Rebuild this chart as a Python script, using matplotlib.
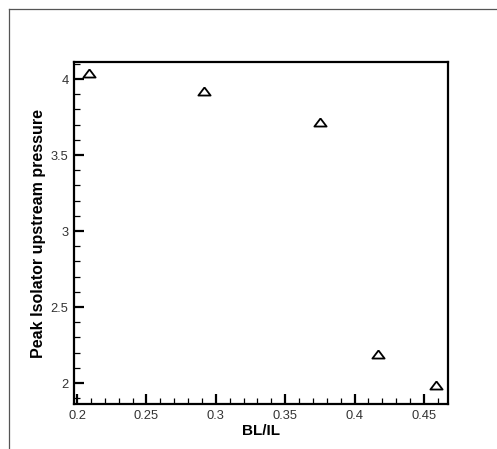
import numpy as np
import matplotlib.pyplot as plt
from matplotlib.lines import Line2D
from matplotlib.ticker import MultipleLocator

# Data
bl_il = [0.2083, 0.2917, 0.375, 0.4167, 0.4583]
peak_pressure = [4.04, 3.92, 3.72, 2.19, 1.99]

plt.rcParams['font.family'] = ['Liberation Sans', 'DejaVu Sans']

fig = plt.figure(figsize=(4.97, 4.49), dpi=100)
ax = fig.add_axes([0.1489, 0.1002, 0.7525, 0.7617])

# flattened triangle, wider than tall
tri = [(0, 0.66), (-1, -0.66), (1, -0.66), (0, 0.66)]
ax.plot(bl_il, peak_pressure, linestyle='none', marker=tri, markersize=8.8,
        markerfacecolor='white', markeredgecolor='black', markeredgewidth=1.3)

ax.set_xlim(0.1978, 0.4673)
ax.set_ylim(1.862, 4.112)
ax.xaxis.set_major_locator(MultipleLocator(0.05))
ax.xaxis.set_minor_locator(MultipleLocator(0.01))
ax.yaxis.set_major_locator(MultipleLocator(0.5))
ax.yaxis.set_minor_locator(MultipleLocator(0.1))
ax.xaxis.set_major_formatter(plt.FuncFormatter(lambda v, p: ('%g' % round(v, 3))))
ax.yaxis.set_major_formatter(plt.FuncFormatter(lambda v, p: ('%g' % round(v, 3))))

ax.tick_params(which='major', direction='in', length=7, width=1.6,
               labelsize=9.3, labelcolor='#333333', pad=4)
ax.tick_params(which='minor', direction='in', length=4, width=0.9)
for s in ax.spines.values():
    s.set_linewidth(1.6)

ax.set_xlabel('BL/IL', fontsize=11, fontweight='bold', labelpad=2)
ax.set_ylabel('Peak Isolator upstream pressure', fontsize=11.5,
              fontweight='bold', labelpad=3)

# outer frame lines
fig.add_artist(Line2D([9 / 497, 496 / 497], [1 - 9 / 449, 1 - 9 / 449],
                      transform=fig.transFigure, color='#555555', lw=0.9))
fig.add_artist(Line2D([9 / 497, 9 / 497], [1 - 9 / 449, 0],
                      transform=fig.transFigure, color='#555555', lw=0.9))

fig.savefig('out.png', dpi=100)
